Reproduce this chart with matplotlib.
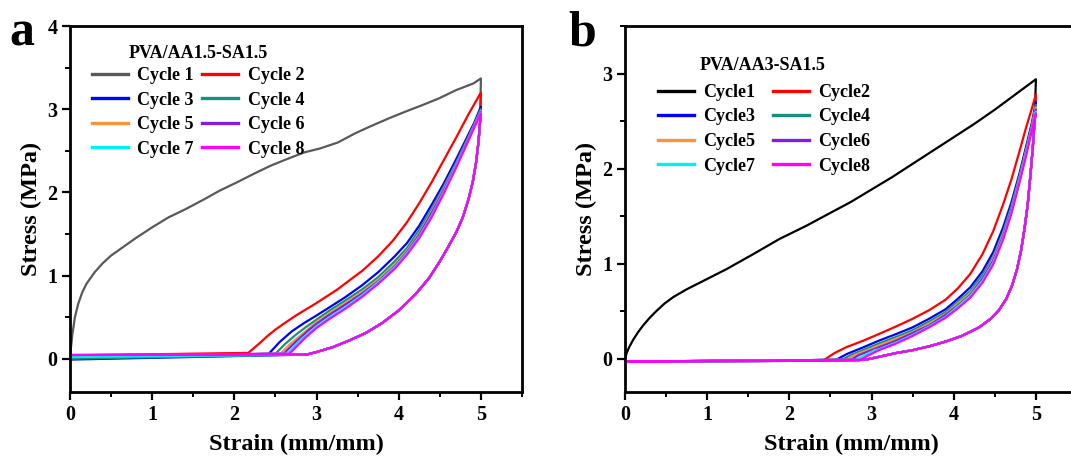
import matplotlib.pyplot as plt
from matplotlib.ticker import MultipleLocator

plt.rcParams['font.family'] = 'serif'
plt.rcParams['font.serif'] = ['Liberation Serif', 'DejaVu Serif']
plt.rcParams['font.weight'] = 'bold'
plt.rcParams['axes.labelweight'] = 'bold'

# ---- panel a : PVA/AA1.5-SA1.5 ----
a_title = 'PVA/AA1.5-SA1.5'
a_labels = ['Cycle 1', 'Cycle 2', 'Cycle 3', 'Cycle 4', 'Cycle 5', 'Cycle 6', 'Cycle 7', 'Cycle 8']
a_colors = ['#595959', '#ff0000', '#0000ff', '#17917f', '#f7943c', '#7f1fe0', '#00f0f0', '#ff00ff']

a_load_strain = [
    [0.0, 0.01, 0.03, 0.06, 0.1, 0.15, 0.2, 0.3, 0.4, 0.5, 0.6, 0.8, 1.0, 1.2, 1.41, 1.62, 1.82, 2.03,
     2.23, 2.44, 2.64, 2.85, 3.05, 3.26, 3.47, 3.67, 3.88, 4.08, 4.29, 4.49, 4.7, 4.91, 5.0],
    [0.0, 2.17, 2.3, 2.4, 2.5, 2.6, 2.75, 2.9, 3.0, 3.25, 3.56, 3.75, 3.93, 4.1, 4.25, 4.4, 4.55,
     4.7, 4.85, 5.0],
    [0.0, 2.42, 2.55, 2.7, 2.85, 3.0, 3.16, 3.35, 3.55, 3.75, 3.95, 4.1, 4.25, 4.4, 4.55, 4.7, 4.82,
     4.92, 5.0],
    [0.0, 2.5, 2.62, 2.75, 2.87, 3.0, 3.16, 3.35, 3.55, 3.75, 3.95, 4.1, 4.25, 4.4, 4.55, 4.7, 4.82,
     4.92, 5.0],
    [0.0, 2.56, 2.67, 2.78, 2.89, 3.0, 3.16, 3.35, 3.55, 3.75, 3.95, 4.1, 4.25, 4.4, 4.55, 4.7, 4.82,
     4.92, 5.0],
    [0.0, 2.6, 2.7, 2.8, 2.9, 3.0, 3.16, 3.35, 3.55, 3.75, 3.95, 4.1, 4.25, 4.4, 4.55, 4.7, 4.82,
     4.92, 5.0],
    [0.0, 2.64, 2.72, 2.82, 2.92, 3.0, 3.16, 3.35, 3.55, 3.75, 3.95, 4.1, 4.25, 4.4, 4.55, 4.7, 4.82,
     4.92, 5.0],
    [0.0, 2.67, 2.75, 2.85, 2.93, 3.0, 3.16, 3.35, 3.55, 3.75, 3.95, 4.1, 4.25, 4.4, 4.55, 4.7, 4.82,
     4.92, 5.0],
]
a_load_stress = [
    [0.0, 0.12, 0.3, 0.5, 0.66, 0.8, 0.9, 1.04, 1.15, 1.24, 1.31, 1.45, 1.58, 1.7, 1.8, 1.91, 2.02,
     2.12, 2.22, 2.32, 2.4, 2.48, 2.53, 2.6, 2.71, 2.8, 2.89, 2.97, 3.05, 3.13, 3.23, 3.31, 3.37],
    [0.04, 0.07, 0.18, 0.27, 0.35, 0.42, 0.52, 0.61, 0.67, 0.83, 1.06, 1.23, 1.42, 1.64, 1.87, 2.12,
     2.39, 2.66, 2.94, 3.2],
    [0.0, 0.06, 0.2, 0.33, 0.43, 0.52, 0.62, 0.74, 0.88, 1.04, 1.23, 1.39, 1.6, 1.85, 2.11, 2.4, 2.64,
     2.84, 3.03],
    [0.02, 0.06, 0.18, 0.29, 0.38, 0.47, 0.58, 0.7, 0.83, 0.98, 1.17, 1.33, 1.55, 1.8, 2.07, 2.36,
     2.61, 2.82, 3.0],
    [0.03, 0.06, 0.17, 0.26, 0.35, 0.44, 0.55, 0.67, 0.8, 0.95, 1.13, 1.3, 1.51, 1.77, 2.05, 2.34,
     2.59, 2.81, 2.98],
    [0.03, 0.06, 0.16, 0.25, 0.34, 0.42, 0.53, 0.65, 0.78, 0.93, 1.11, 1.28, 1.49, 1.75, 2.03, 2.33,
     2.58, 2.8, 2.97],
    [0.03, 0.06, 0.14, 0.24, 0.32, 0.39, 0.5, 0.62, 0.76, 0.92, 1.1, 1.27, 1.47, 1.72, 2.01, 2.32,
     2.57, 2.79, 2.96],
    [0.045, 0.06, 0.14, 0.24, 0.31, 0.37, 0.48, 0.6, 0.74, 0.9, 1.08, 1.25, 1.45, 1.7, 1.99, 2.3,
     2.56, 2.78, 2.95],
]
a_unload_strain = [4.99, 4.97, 4.94, 4.9, 4.85, 4.78, 4.7, 4.6, 4.5, 4.37, 4.2, 4.0, 3.8, 3.6, 3.4,
                   3.2, 3.0, 2.88]
a_unload_stress = [2.85, 2.6, 2.35, 2.12, 1.92, 1.7, 1.52, 1.34, 1.17, 0.97, 0.77, 0.58, 0.43, 0.31,
                   0.22, 0.14, 0.08, 0.05]
a_return_stress = [0.03, 0.03, -0.01, 0.0, 0.03, 0.03, 0.02, 0.045]

# ---- panel b : PVA/AA3-SA1.5 ----
b_title = 'PVA/AA3-SA1.5'
b_labels = ['Cycle1', 'Cycle2', 'Cycle3', 'Cycle4', 'Cycle5', 'Cycle6', 'Cycle7', 'Cycle8']
b_colors = ['#000000', '#ff0000', '#0000ff', '#17917f', '#f7943c', '#7f1fe0', '#00f0f0', '#ff00ff']

b_load_strain = [
    [0.0, 0.02, 0.05, 0.1, 0.16, 0.22, 0.3, 0.38, 0.48, 0.59, 0.75, 0.91, 1.23, 1.56, 1.88, 2.21,
     2.49, 2.75, 3.0, 3.25, 3.5, 3.75, 4.0, 4.25, 4.5, 4.75, 5.0],
    [0.0, 2.41, 2.55, 2.69, 2.9, 3.09, 3.3, 3.5, 3.7, 3.9, 4.05, 4.2, 4.35, 4.48, 4.6, 4.7, 4.8,
     4.88, 4.95, 5.0],
    [0.0, 2.55, 2.7, 2.9, 3.09, 3.3, 3.5, 3.7, 3.9, 4.05, 4.2, 4.35, 4.48, 4.6, 4.7, 4.8, 4.88,
     4.95, 5.0],
    [0.0, 2.62, 2.75, 2.95, 3.09, 3.3, 3.5, 3.7, 3.9, 4.05, 4.2, 4.35, 4.48, 4.6, 4.7, 4.8, 4.88,
     4.95, 5.0],
    [0.0, 2.68, 2.8, 2.98, 3.09, 3.3, 3.5, 3.7, 3.9, 4.05, 4.2, 4.35, 4.48, 4.6, 4.7, 4.8, 4.88,
     4.95, 5.0],
    [0.0, 2.73, 2.85, 3.0, 3.09, 3.3, 3.5, 3.7, 3.9, 4.05, 4.2, 4.35, 4.48, 4.6, 4.7, 4.8, 4.88,
     4.95, 5.0],
    [0.0, 2.79, 2.9, 3.04, 3.09, 3.3, 3.5, 3.7, 3.9, 4.05, 4.2, 4.35, 4.48, 4.6, 4.7, 4.8, 4.88,
     4.95, 5.0],
    [0.0, 2.85, 2.95, 3.09, 3.3, 3.5, 3.7, 3.9, 4.05, 4.2, 4.35, 4.48, 4.6, 4.7, 4.8, 4.88, 4.95, 5.0],
]
b_load_stress = [
    [0.0, 0.06, 0.12, 0.2, 0.28, 0.35, 0.43, 0.5, 0.58, 0.65, 0.73, 0.8, 0.94, 1.1, 1.26, 1.4, 1.53,
     1.65, 1.78, 1.91, 2.05, 2.19, 2.33, 2.47, 2.62, 2.78, 2.94],
    [-0.03, -0.02, 0.06, 0.12, 0.19, 0.26, 0.34, 0.42, 0.51, 0.62, 0.74, 0.89, 1.1, 1.34, 1.62, 1.88,
     2.18, 2.43, 2.63, 2.78],
    [-0.03, -0.02, 0.05, 0.12, 0.19, 0.26, 0.33, 0.42, 0.52, 0.63, 0.75, 0.92, 1.12, 1.38, 1.64, 1.95,
     2.23, 2.48, 2.7],
    [-0.03, -0.02, 0.04, 0.11, 0.16, 0.23, 0.3, 0.39, 0.49, 0.6, 0.71, 0.88, 1.07, 1.33, 1.6, 1.92,
     2.2, 2.45, 2.67],
    [-0.03, -0.02, 0.04, 0.1, 0.14, 0.21, 0.28, 0.37, 0.47, 0.58, 0.69, 0.85, 1.05, 1.31, 1.57, 1.9,
     2.18, 2.44, 2.64],
    [-0.03, -0.02, 0.04, 0.09, 0.12, 0.19, 0.27, 0.35, 0.46, 0.56, 0.67, 0.84, 1.03, 1.29, 1.56, 1.88,
     2.16, 2.42, 2.62],
    [-0.03, -0.02, 0.03, 0.09, 0.1, 0.17, 0.25, 0.34, 0.44, 0.55, 0.66, 0.82, 1.01, 1.27, 1.54, 1.87,
     2.15, 2.41, 2.6],
    [-0.03, -0.02, 0.03, 0.09, 0.16, 0.24, 0.33, 0.43, 0.53, 0.64, 0.8, 0.99, 1.25, 1.52, 1.85, 2.13,
     2.4, 2.58],
]
b_unload_strain = [4.985, 4.96, 4.93, 4.9, 4.86, 4.82, 4.77, 4.71, 4.64, 4.55, 4.45, 4.31, 4.1, 3.9,
                   3.7, 3.5, 3.3, 3.09, 2.93]
b_unload_stress = [2.5, 2.2, 1.9, 1.62, 1.36, 1.14, 0.94, 0.77, 0.63, 0.51, 0.42, 0.33, 0.24, 0.18,
                   0.13, 0.09, 0.06, 0.02, -0.01]
b_return_stress = [-0.03, -0.03, -0.03, -0.03, -0.03, -0.03, -0.03, -0.03]


def draw(ax, load_x, load_y, unload_x, unload_y, ret_y, colors, labels, title, ylim, ymax_tick,
         title_pos, leg_anchor, colspace):
    lines = []
    for i in range(len(labels)):
        x = load_x[i] + unload_x + [0.0]
        y = load_y[i] + unload_y + [ret_y[i]]
        ln, = ax.plot(x, y, color=colors[i], lw=1.6, label=labels[i])
        lines.append(ln)

    ax.set_xlim(0, 5.5)
    ax.set_ylim(*ylim)
    ax.set_xticks(range(0, 6))
    ax.set_yticks(range(0, ymax_tick + 1))
    ax.xaxis.set_minor_locator(MultipleLocator(0.5))
    ax.yaxis.set_minor_locator(MultipleLocator(0.5))
    ax.tick_params(which='major', direction='out', length=6, width=1.6, labelsize=14.5, pad=3)
    ax.tick_params(which='minor', direction='out', length=3.5, width=1.4)
    for sp in ax.spines.values():
        sp.set_linewidth(2.0)
    ax.set_xlabel('Strain (mm/mm)', fontsize=17.5, labelpad=7)
    ax.set_ylabel('Stress (MPa)', fontsize=17.5, labelpad=4)

    ax.text(title_pos[0], title_pos[1], title, transform=ax.transAxes, fontsize=13,
            fontweight='bold', ha='center', va='center')
    # row-wise legend order: 1 2 / 3 4 / 5 6 / 7 8
    order = [0, 2, 4, 6, 1, 3, 5, 7]
    leg = ax.legend([lines[k] for k in order], [labels[k] for k in order], ncol=2, frameon=False,
                    loc='upper left', bbox_to_anchor=leg_anchor, fontsize=13, handlelength=2.0,
                    handletextpad=0.5, columnspacing=colspace, labelspacing=0.42,
                    borderaxespad=0, borderpad=0)
    for h in leg.legend_handles:
        h.set_linewidth(2.4)


fig = plt.figure(figsize=(10.71, 4.58), dpi=100)
ax_a = fig.add_axes([70 / 1071, 66 / 458, 452 / 1071, 366 / 458])
ax_b = fig.add_axes([625 / 1071, 66 / 458, 452 / 1071, 366 / 458])

draw(ax_a, a_load_strain, a_load_stress, a_unload_strain, a_unload_stress, a_return_stress,
     a_colors, a_labels, a_title, (-0.4, 4.0), 4, (0.283, 0.926), (0.048, 0.888), 0.5)
draw(ax_b, b_load_strain, b_load_stress, b_unload_strain, b_unload_stress, b_return_stress,
     b_colors, b_labels, b_title, (-0.35, 3.5), 3, (0.305, 0.893), (0.073, 0.842), 1.0)

fig.text(9 / 1071, 1 - 46 / 458, 'a', fontsize=36, fontweight='bold', va='baseline')
fig.text(568 / 1071, 1 - 46 / 458, 'b', fontsize=36, fontweight='bold', va='baseline')

fig.savefig('out.png', dpi=100)
